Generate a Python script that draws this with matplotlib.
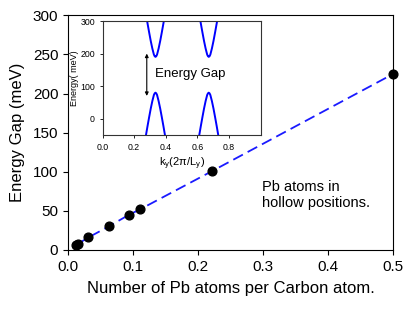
import numpy as np
import matplotlib
matplotlib.use('Agg')
import matplotlib.pyplot as plt

plt.rcParams['font.family'] = ['Liberation Sans', 'DejaVu Sans']
plt.rcParams['mathtext.default'] = 'regular'

# main panel: gap vs Pb concentration
pb_per_c = [0.0125, 0.0156, 0.0313, 0.0625, 0.0938, 0.111, 0.222, 0.5]
gap_mev = [6.5, 8, 16, 30, 45, 52, 101, 225]

# inset: bands near the two valleys
k_valley1 = [0.270, 0.285, 0.295, 0.305, 0.315, 0.325, 0.330, 0.335,
             0.340, 0.345, 0.355, 0.365, 0.375, 0.385, 0.400]
k_valley2 = [0.607, 0.622, 0.632, 0.642, 0.652, 0.662, 0.667, 0.672,
             0.677, 0.682, 0.692, 0.702, 0.712, 0.722, 0.737]
e_lower = [-64, -22, 5, 31, 54, 73, 78, 80, 78, 73, 54, 31, 5, -22, -64]
e_upper = [334, 292, 265, 239, 216, 197, 192, 190, 192, 197, 216, 239, 265, 292, 334]

fig = plt.figure(figsize=(4.15, 3.14), dpi=100)
ax = fig.add_axes([0.164, 0.204, 0.783, 0.747])

ax.plot(pb_per_c, gap_mev, color='#1a1aff', ls=(0, (6, 3)), lw=1.3)
ax.plot(pb_per_c, gap_mev, 'o', color='black', ms=6.3, clip_on=False, zorder=5)
ax.set_xlim(0, 0.5)
ax.set_ylim(0, 300)
ax.set_xticks([0.0, 0.1, 0.2, 0.3, 0.4, 0.5])
ax.set_xticklabels(['0.0', '0.1', '0.2', '0.3', '0.4', '0.5'])
ax.set_yticks([0, 50, 100, 150, 200, 250, 300])
ax.tick_params(labelsize=11, length=3.5, width=0.8)
ax.set_xlabel('Number of Pb atoms per Carbon atom.', fontsize=12, labelpad=5)
ax.set_ylabel('Energy Gap (meV)', fontsize=12, labelpad=6)
ax.text(0.298, 70, 'Pb atoms in\nhollow positions.', fontsize=10.5,
        va='center', ha='left', linespacing=1.15)

# inset
ins = fig.add_axes([0.247, 0.570, 0.381, 0.363])
for k in (k_valley1, k_valley2):
    ins.plot(k, e_lower, color='#0000ff', lw=1.4)
    ins.plot(k, e_upper, color='#0000ff', lw=1.4)
ins.annotate('', xy=(0.28, 70), xytext=(0.28, 200),
             arrowprops=dict(arrowstyle='<|-|>', color='black', lw=0.8,
                             mutation_scale=5, shrinkA=0, shrinkB=0))
ins.text(0.33, 136, 'Energy Gap', fontsize=9.5, va='center', ha='left')
ins.set_xlim(0, 1.0)
ins.set_ylim(-50, 300)
ins.set_xticks([0.0, 0.2, 0.4, 0.6, 0.8])
ins.set_xticklabels(['0.0', '0.2', '0.4', '0.6', '0.8'])
ins.set_yticks([0, 100, 200, 300])
ins.tick_params(labelsize=6.3, length=2, width=0.6, pad=3.5)
for s in ins.spines.values():
    s.set_linewidth(0.8)
    s.set_color('#333333')
ins.set_xlabel('k$_y$(2\u03c0/L$_y$)', fontsize=8, labelpad=3)
ins.set_ylabel('Energy( meV)', fontsize=6.5, labelpad=1)

fig.savefig('out.png', dpi=100)
